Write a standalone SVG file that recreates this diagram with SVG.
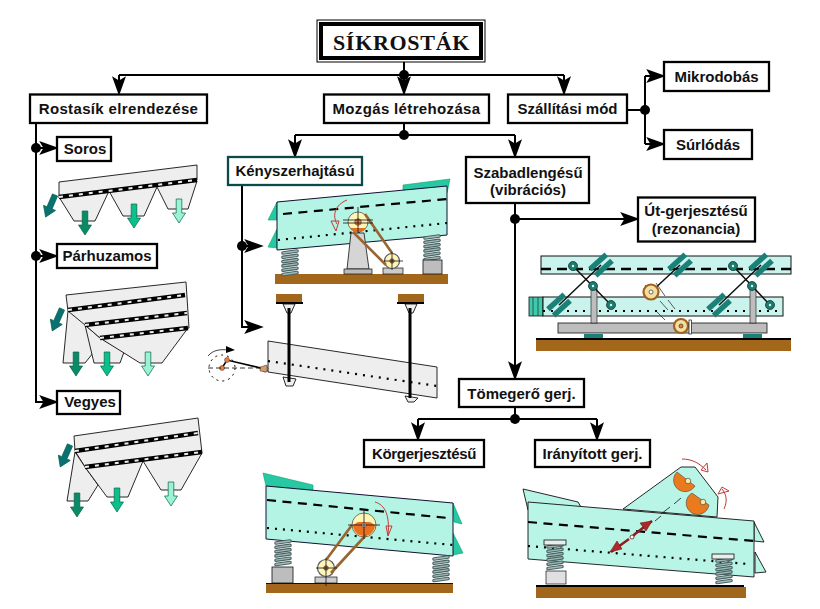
<svg xmlns="http://www.w3.org/2000/svg" xmlns:xlink="http://www.w3.org/1999/xlink" width="820" height="609" viewBox="0 0 820 609">
<style>
.box{fill:#fff;stroke:#000;stroke-width:2.3}
.lbl{font-family:"Liberation Sans",Arial,sans-serif;font-weight:700;font-size:15px;text-anchor:middle;fill:#111}
.c{fill:none;stroke:#000;stroke-width:2}
.grey{fill:#eeeeee;stroke:#111;stroke-width:.9;stroke-linejoin:round}
.aq{fill:#b4f4e4;stroke:#113;stroke-width:1}
.pale{fill:#c9f3ec;stroke:#111;stroke-width:1}
.flap{fill:#28c8a4;stroke:#0a6;stroke-width:.6}
.flap2{fill:#b9f5e6;stroke:#111;stroke-width:.9}
.barb{fill:none;stroke:#000;stroke-width:4.5}
.barw{fill:none;stroke:#eee;stroke-width:2;stroke-dasharray:4 6}
.dash{fill:none;stroke:#000;stroke-width:2.2;stroke-dasharray:9 6.5}
.dots{fill:none;stroke:#000;stroke-width:2.2;stroke-dasharray:2 6}
.brown{fill:#a3671c}
.blk{fill:#bdbdbd;stroke:#111;stroke-width:.8}
.belt{fill:none;stroke:#9a6430;stroke-width:2.6}
.red{fill:none;stroke:#c23a3a;stroke-width:1}
.th{fill:none;stroke:#111;stroke-width:.8}
.leaf{fill:#1a8078}
.ln{stroke:#111;stroke-width:1.5;fill:none}
</style>
<defs>
<marker id="ah" markerWidth="20" markerHeight="14" refX="12" refY="5" orient="auto" markerUnits="userSpaceOnUse" viewBox="0 0 14 10"><path d="M0 0L14 5L0 10L3 5Z" fill="#000"/></marker>
<path id="ba" d="M-2.800 0H2.800V14H6.500L0 24L-6.500 14H-2.800Z" stroke-width=".7"/>
<g id="spr">
<path d="M1 3L15 1M1 7.300L15 5.300M1 11.600L15 9.600M1 15.900L15 13.900M1 20.200L15 18.200M1 24.500L15 22.500" fill="none" stroke="#4a6464" stroke-width="3.600" stroke-linecap="round"/>
<path d="M1 3L15 1M1 7.300L15 5.300M1 11.600L15 9.600M1 15.900L15 13.900M1 20.200L15 18.200M1 24.500L15 22.500" fill="none" stroke="#a4baba" stroke-width="1.300" stroke-linecap="round"/>
</g>
<g id="lf"><rect x="-11" y="-7" width="22" height="5.500" class="leaf"/><rect x="-11" y="1.500" width="22" height="5.500" class="leaf"/></g>
<g id="pin"><circle r="4.500" fill="#1f7a6e" stroke="#0b3b35" stroke-width=".8"/><circle r="1.200" fill="#cfe"/></g>
</defs>

<g id="connectors">
<path class="c" d="M404 62V75M119 75H564"/>
<path class="c" d="M119 75V93" marker-end="url(#ah)"/><path class="c" d="M404 75V93" marker-end="url(#ah)"/><path class="c" d="M564 75V93" marker-end="url(#ah)"/>
<circle cx="404" cy="75" r="5"/>
<path class="c" d="M627 110H645M645 76V144"/>
<path class="c" d="M645 76H663" marker-end="url(#ah)"/><path class="c" d="M645 144H663" marker-end="url(#ah)"/>
<circle cx="645" cy="110" r="5"/>
<path class="c" d="M404 123V135M295 135H515"/>
<path class="c" d="M295 135V156" marker-end="url(#ah)"/><path class="c" d="M515 135V156" marker-end="url(#ah)"/>
<circle cx="404" cy="135" r="5"/>
<path class="c" d="M515 203V378" marker-end="url(#ah)"/>
<path class="c" d="M515 219H637" marker-end="url(#ah)"/>
<circle cx="515" cy="219" r="5"/>
<path class="c" d="M515 407V419M418 419H597"/>
<path class="c" d="M418 419V439" marker-end="url(#ah)"/><path class="c" d="M597 419V439" marker-end="url(#ah)"/>
<circle cx="515" cy="419" r="5"/>
<path class="c" d="M36 123V402H56" marker-end="url(#ah)"/>
<path class="c" d="M36 148H56" marker-end="url(#ah)"/><path class="c" d="M36 256H56" marker-end="url(#ah)"/>
<circle cx="36" cy="148" r="5"/><circle cx="36" cy="256" r="5"/>
<path class="c" d="M242 185V327H261" marker-end="url(#ah)"/>
<path class="c" d="M242 246H261" marker-end="url(#ah)"/>
<circle cx="242" cy="246" r="5"/>
</g>

<g id="n-title">
<rect x="317" y="20" width="168" height="42" fill="#fff" stroke="#000" stroke-width="1"/>
<rect x="321" y="24" width="160" height="34" fill="#fff" stroke="#000" stroke-width="4"/>
<text x="401.500" y="50" font-family="Liberation Serif,serif" font-weight="700" font-size="22" letter-spacing=".7" text-anchor="middle" fill="#111">SÍKROSTÁK</text>
</g>
<g id="n-rostasik"><rect class="box" x="30" y="94.500" width="177" height="28.500"/><text class="lbl" x="118.500" y="114" letter-spacing=".35">Rostasík elrendezése</text></g>
<g id="n-mozgas"><rect class="box" x="324" y="94.500" width="165" height="28.500"/><text class="lbl" x="406.500" y="114" letter-spacing=".35">Mozgás létrehozása</text></g>
<g id="n-szallitasi"><rect class="box" x="508" y="94.500" width="119" height="28.500"/><text class="lbl" x="567.500" y="114">Szállítási mód</text></g>
<g id="n-mikro"><rect class="box" x="664" y="62" width="105" height="29"/><text class="lbl" x="716.500" y="82">Mikrodobás</text></g>
<g id="n-surlodas"><rect class="box" x="664" y="130" width="88" height="29"/><text class="lbl" x="708" y="150">Súrlódás</text></g>
<g id="n-soros"><rect class="box" x="57" y="137" width="54" height="24"/><text class="lbl" x="85" y="154">Soros</text></g>
<g id="n-parh"><rect class="box" x="57" y="244" width="100" height="24"/><text class="lbl" x="107" y="261">Párhuzamos</text></g>
<g id="n-vegyes"><rect class="box" x="57" y="391" width="63" height="23"/><text class="lbl" x="90" y="407">Vegyes</text></g>
<g id="n-kenyszer"><rect x="228" y="157" width="134" height="28" fill="#fff" stroke="#0c4a4a" stroke-width="2.300"/><text class="lbl" x="295" y="176">Kényszerhajtású</text></g>
<g id="n-szabad"><rect class="box" x="466" y="157" width="123" height="46"/><text class="lbl" x="528" y="178">Szabadlengésű</text><text class="lbl" x="528" y="195">(vibrációs)</text></g>
<g id="n-ut"><rect class="box" x="638" y="197.500" width="117" height="44"/><text class="lbl" x="696" y="216">Út-gerjesztésű</text><text class="lbl" x="696" y="234">(rezonancia)</text></g>
<g id="n-tomeg"><rect class="box" x="459" y="379" width="125" height="28"/><text class="lbl" x="521.500" y="399">Tömegerő gerj.</text></g>
<g id="n-kor"><rect class="box" x="364" y="440" width="120" height="27"/><text class="lbl" x="424" y="459" letter-spacing="-.3">Körgerjesztésű</text></g>
<g id="n-irany"><rect class="box" x="535" y="440" width="115" height="27"/><text class="lbl" x="592.500" y="459">Irányított gerj.</text></g>

<g id="pic-soros">
<path class="grey" d="M59 182L197 165V180L59 198Z"/>
<path class="grey" d="M59 197L74 221H95L109 191L123 216H144L157 187L168 209H188L197 181Z"/>
<path class="barb" d="M59 197L197 180"/><path class="barw" d="M59 197L197 180"/>
<use xlink:href="#ba" x="85" y="211" fill="#0b8a68" stroke="#064"/>
<use xlink:href="#ba" x="134" y="204" fill="#0cc08e" stroke="#064"/>
<use xlink:href="#ba" x="179" y="199" fill="#9cf2d6" stroke="#064"/>
<use xlink:href="#ba" transform="translate(55 195) rotate(23)" fill="#0b7074" stroke="#064"/>
</g>
<g id="pic-parh">
<path class="grey" d="M63 363L68 311L85 312L93 353L85 363Z"/>
<path class="grey" d="M85 325L94 363H120L124 352L100 338Z"/>
<path class="grey" d="M100 338L140 363H162L188 328Z"/>
<path class="grey" d="M66 295L186 282L189 328L100 338L85 325L68 311Z"/>
<path class="barb" d="M68 310L185 295"/><path class="barw" d="M68 310L185 295"/>
<path class="barb" d="M85 325L187 313"/><path class="barw" d="M85 325L187 313"/>
<path class="barb" d="M100 338L188 328" stroke-width="3.500"/><path class="barw" d="M100 338L188 328"/>
<use xlink:href="#ba" x="76" y="352" fill="#0b8a68" stroke="#064"/>
<use xlink:href="#ba" x="107" y="352" fill="#0cc08e" stroke="#064"/>
<use xlink:href="#ba" x="148" y="352" fill="#9cf2d6" stroke="#064"/>
<use xlink:href="#ba" transform="translate(62 309) rotate(24)" fill="#0b7074" stroke="#064"/>
</g>
<g id="pic-vegyes">
<path class="grey" d="M74 436L198 418L202 453L85 467L75 451Z"/>
<path class="grey" d="M75 452L67 501H88L98 485L85 467Z"/>
<path class="grey" d="M85 467L107 497H128L143 461Z"/>
<path class="grey" d="M143 461L161 490H181L202 453Z"/>
<path class="barb" d="M75 451L198 433"/><path class="barw" d="M75 451L198 433"/>
<path class="barb" d="M85 467L202 452" stroke-width="3.500"/><path class="barw" d="M85 467L202 452"/>
<use xlink:href="#ba" x="77" y="493" fill="#0b8a68" stroke="#064"/>
<use xlink:href="#ba" x="117" y="488" fill="#0cc08e" stroke="#064"/>
<use xlink:href="#ba" x="171" y="482" fill="#9cf2d6" stroke="#064"/>
<use xlink:href="#ba" transform="translate(70 445) rotate(24)" fill="#0b7074" stroke="#064"/>
</g>

<g id="pic-kenyszer">
<path class="flap" d="M403 185L450 179L447 193L403 195Z"/>
<path class="flap" d="M277 202L268 220H277Z"/><path class="flap" d="M277 229L268 247L277 248Z"/>
<path class="aq" d="M277 202L447 186V235L277 250Z"/>
<path class="dash" d="M283 214L447 199"/><path class="dots" d="M278 240L447 223"/>
<rect class="brown" x="275" y="274" width="173" height="10"/>
<use xlink:href="#spr" x="282" y="250"/><use xlink:href="#spr" x="424" y="235"/>
<rect class="blk" x="423" y="260" width="19" height="14"/>
<path d="M351 233H364L369 269H347Z" fill="#d5d5d5" stroke="#111" stroke-width=".8"/>
<rect x="344" y="269" width="28" height="5" fill="#bbb" stroke="#111" stroke-width=".7"/>
<rect x="383" y="268" width="20" height="6" fill="#ccc" stroke="#111" stroke-width=".7"/>
<circle cx="392" cy="261" r="7.500" fill="#fdf6b8" stroke="#556" stroke-width="1.200"/>
<circle cx="358" cy="222" r="10" fill="#fdf6b8" stroke="#665" stroke-width=".9"/>
<path d="M350 228A10 10 0 0 0 366 228Z" fill="#e07020"/>
<path class="belt" d="M353 232L386 265M365 214L392 253"/>
<circle cx="358" cy="222" r="3.300" fill="#f08030" stroke="#643" stroke-width=".6"/>
<circle cx="392" cy="261" r="2.200" fill="#c08040" stroke="#333" stroke-width=".6"/>
<path class="th" d="M358 207V232M343 220H373M343 223H373M392 252V270M384 261H403"/>
<path class="red" d="M347 200C335 205 332 215 337 224M331 221H339L336 231Z"/>
</g>
<g id="pic-hanger">
<rect class="brown" x="276" y="294" width="26" height="8"/><rect x="276" y="302" width="27" height="2"/>
<rect class="brown" x="398" y="294" width="26" height="8"/><rect x="397" y="302" width="27" height="2"/>
<path class="grey" d="M268 341L437 367V398L268 372Z" stroke-width="1"/>
<path class="dots" d="M268 361L437 386"/>
<path class="grey" d="M283 304H295L291 313H287Z" fill="#ccc"/><path class="grey" d="M405 304H417L413 313H409Z" fill="#ccc"/>
<path class="grey" d="M283 377L296 379L293 386H286Z" fill="#ccc"/><path class="grey" d="M405 396L418 398L414 402H408Z" fill="#ccc"/>
<path d="M289 308V382M410 308V398" stroke="#000" stroke-width="3" fill="none"/>
<path d="M222 368L227 360L265 369" stroke="#000" stroke-width="1.500" fill="none"/>
<circle cx="222" cy="368" r="2.500" fill="#e08040" stroke="#633" stroke-width=".5"/><circle cx="227" cy="360" r="2.500" fill="#e08040" stroke="#633" stroke-width=".5"/>
<circle cx="265" cy="369" r="3" fill="#e0a070" stroke="#633" stroke-width=".8"/><path d="M260 367L267 365V372L260 371Z" fill="#c9a070" stroke="#633" stroke-width=".5"/>
<circle cx="222" cy="368" r="13" fill="none" stroke="#000" stroke-width="1" stroke-dasharray="2 4"/>
<path d="M208 368H264" stroke="#000" stroke-width=".8" stroke-dasharray="5 3" fill="none"/>
<path d="M208 356C213 350 220 349 229 350" stroke="#111" stroke-width=".8" fill="none"/><path d="M226 346L235 350L226 353Z"/>
</g>
<g id="pic-ut">
<rect class="pale" x="541" y="256" width="250" height="18"/>
<path d="M541 269H791" fill="none" stroke="#000" stroke-width="2.500" stroke-dasharray="10 6"/>
<rect x="529" y="297" width="14" height="19" fill="#3fc9ad" stroke="#111" stroke-width=".8"/>
<path d="M533 297V316M538 297V316" stroke="#111" stroke-width=".6"/>
<rect class="pale" x="543" y="297" width="240" height="19"/>
<path class="dots" d="M543 311H783"/>
<rect x="558" y="323" width="209" height="10" fill="#bdbdbd" stroke="#111" stroke-width=".8"/>
<rect x="591" y="288" width="6" height="35" fill="#bdbdbd" stroke="#111" stroke-width=".6"/><rect x="750" y="288" width="6" height="35" fill="#bdbdbd" stroke="#111" stroke-width=".6"/>
<rect x="584" y="334" width="19" height="4" fill="#1a8078"/><rect x="743" y="334" width="19" height="4" fill="#1a8078"/>
<rect class="brown" x="536" y="339" width="255" height="12"/><rect x="536" y="338" width="255" height="2"/>
<path class="ln" d="M559 305L601 265M719 305L761 265M651 292L680 265M573 266L611 305M733 266L770 305"/>
<path d="M645 285L657 298M656 283L665 296M660 301L668 310M668 300L675 309M657 312L665 320" stroke="#333" stroke-width=".8" fill="none"/>
<use xlink:href="#lf" transform="translate(559 305) rotate(-42)"/>
<use xlink:href="#lf" transform="translate(601 265) rotate(-42)"/>
<use xlink:href="#lf" transform="translate(680 265) rotate(-42)"/>
<use xlink:href="#lf" transform="translate(719 305) rotate(-42)"/>
<use xlink:href="#lf" transform="translate(761 265) rotate(-42)"/>
<use xlink:href="#pin" x="573" y="266"/><use xlink:href="#pin" x="593" y="286"/><use xlink:href="#pin" x="611" y="305"/>
<use xlink:href="#pin" x="733" y="266"/><use xlink:href="#pin" x="752" y="286"/><use xlink:href="#pin" x="770" y="305"/>
<circle cx="651" cy="292" r="7.500" fill="#f5dfa0" stroke="#a0621c" stroke-width="2.200"/><circle cx="651" cy="292" r="2" fill="#fff" stroke="#333" stroke-width=".7"/>
<circle cx="681" cy="326" r="7" fill="#f5dfa0" stroke="#a0621c" stroke-width="2.200"/><circle cx="681" cy="326" r="2" fill="#e08040" stroke="#333" stroke-width=".7"/>
<rect x="689" y="320" width="2.500" height="14" fill="#fff" stroke="#111" stroke-width=".7"/>
</g>
<g id="pic-kor">
<path class="flap" d="M263 473L313 485V490L266 486Z"/>
<path class="flap" d="M453 503L462 524L454 522Z"/><path class="flap" d="M453 533L463 553L453 555Z"/>
<path class="aq" d="M266 486L453 503V556L266 539Z"/>
<path class="dash" d="M267 500L448 518"/><path class="dots" d="M267 528L453 545"/>
<rect class="brown" x="266" y="584" width="187" height="9"/><path d="M266 583.500H453" stroke="#111" stroke-width="1"/>
<use xlink:href="#spr" x="275" y="540"/><use xlink:href="#spr" x="433" y="556"/>
<rect class="blk" x="272" y="567" width="21" height="16"/>
<rect x="315" y="577" width="22" height="6" fill="#ccc" stroke="#111" stroke-width=".7"/>
<circle cx="326" cy="568" r="8.500" fill="#fdf6b8" stroke="#556" stroke-width="1.200"/>
<circle cx="364" cy="525" r="12" fill="#fdf6b8" stroke="#665" stroke-width=".9"/>
<path d="M353 525A11 11 0 0 0 375 525L370 522H358Z" fill="#ea7020"/>
<path class="belt" d="M352 525L326 560M366 535L331 573"/>
<circle cx="364" cy="525" r="2.300" fill="#fff" stroke="#633" stroke-width=".7"/>
<circle cx="326" cy="568" r="2.300" fill="#c08040" stroke="#333" stroke-width=".6"/>
<path class="th" d="M364 511V539M348 525H380M326 558V586M316 568H337"/>
<path class="red" d="M375 502C385 505 390 515 388 535M386 526L392 526L388 536Z"/>
</g>
<g id="pic-irany">
<path d="M623 509L681 467H695L718 497L717 517Z" class="flap2"/>
<path class="flap2" d="M523 489L578 502L581 507L528 510Z"/>
<path class="flap2" d="M754 522L764 542L754 541Z"/><path class="flap2" d="M755 552L766 572L755 573Z"/>
<path class="flap2" d="M528 502L754 521V577L528 559Z" fill="#d8f8f0"/>
<path class="dash" d="M528 522L754 541"/><path class="dots" d="M528 546L748 564"/>
<rect x="536" y="585" width="208" height="2.500"/><rect class="brown" x="536" y="587" width="210" height="11"/>
<use xlink:href="#spr" x="547" y="544"/><use xlink:href="#spr" x="716" y="558"/>
<rect x="544" y="540" width="22" height="5" fill="#e4f0ec" stroke="#111" stroke-width=".8"/>
<rect x="712" y="554" width="22" height="5" fill="#e4f0ec" stroke="#111" stroke-width=".8"/>
<rect x="546" y="571" width="20" height="13" fill="#e0e0e0" stroke="#111" stroke-width=".7"/>
<path d="M677 472A11.500 11.500 0 1 0 695 486Z" fill="#ea7a1e" stroke="#333" stroke-width=".5"/>
<path d="M692 493A11.500 11.500 0 1 0 709 505Z" fill="#ea7a1e" stroke="#333" stroke-width=".5"/>
<circle cx="688" cy="481" r="2.800" fill="#ffe6a0" stroke="#333" stroke-width=".6"/><circle cx="703" cy="502" r="2.800" fill="#ffe6a0" stroke="#333" stroke-width=".6"/>
<path d="M674 504L681 498M670 507L661 514" class="th"/>
<path d="M652 521L635 534L632 537" fill="none" stroke="#8c2020" stroke-width="2.500"/>
<path d="M629 539L611 552" fill="none" stroke="#8c2020" stroke-width="2.500"/>
<path d="M652 521L640 523L646 531Z" fill="#b02828" stroke="#511" stroke-width=".5"/>
<path d="M610 552L622 549L617 541Z" fill="#b02828" stroke="#511" stroke-width=".5"/>
<circle cx="632" cy="537" r="2" fill="#fff" stroke="#500" stroke-width=".7"/>
<path d="M655 521L661 516" class="th"/>
<path class="red" d="M682 459C692 459 699 463 706 470M707 463L708 472L701 470Z"/>
<path class="red" d="M724 509C728 500 726 494 722 489M718 494L722 487L729 491Z"/>
</g>
</svg>
